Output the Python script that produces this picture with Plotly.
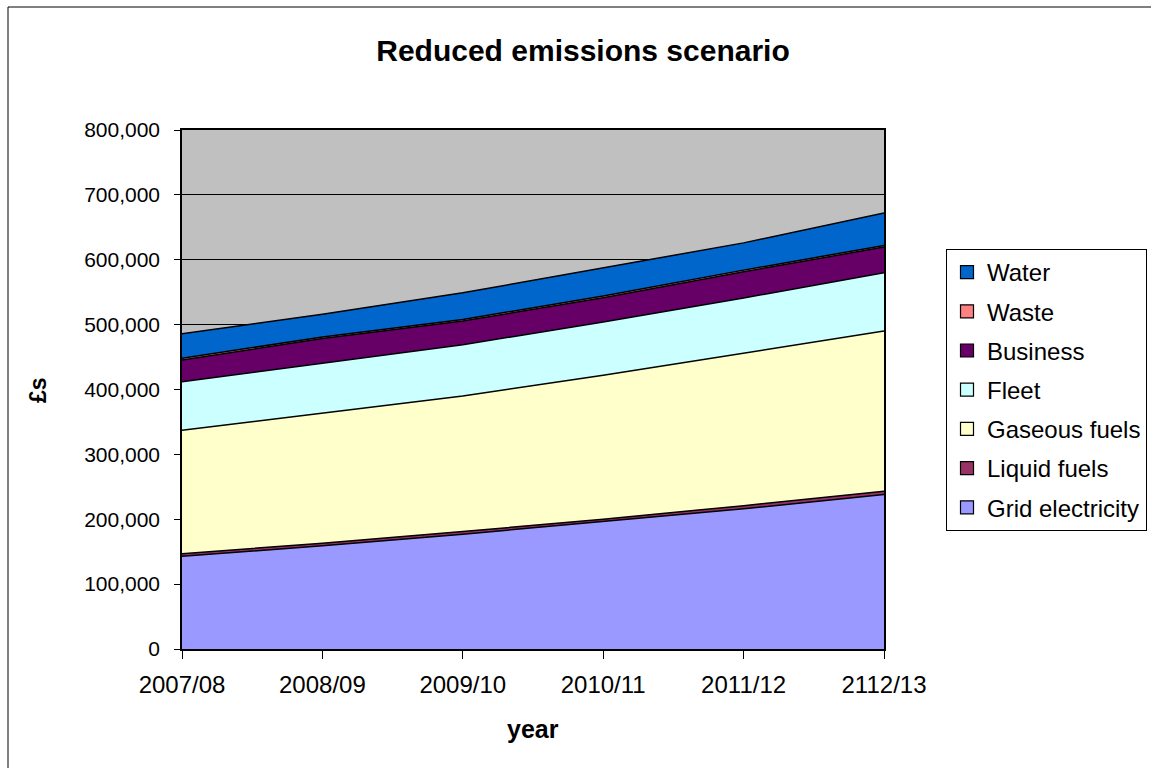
import plotly.graph_objects as go

years = ["2007/08", "2008/09", "2009/10", "2010/11", "2011/12", "2112/13"]

grid_electricity = [143000, 159000, 177000, 196000, 216000, 238000]
liquid_fuels = [4000, 4000, 4000, 4000, 5000, 5000]
gaseous_fuels = [190000, 201000, 209000, 222000, 235000, 247000]
fleet = [75000, 77000, 79000, 82000, 85000, 90000]
business = [33500, 37500, 36500, 37500, 40500, 39500]
waste = [2500, 2500, 2500, 2500, 2500, 2500]
water = [38000, 35000, 41000, 43000, 42000, 50000]

y_ticks = [0, 100000, 200000, 300000, 400000, 500000, 600000, 700000, 800000]

series = [
    ("Grid electricity", grid_electricity, "#9999FF"),
    ("Liquid fuels", liquid_fuels, "#993366"),
    ("Gaseous fuels", gaseous_fuels, "#FFFFCC"),
    ("Fleet", fleet, "#CCFFFF"),
    ("Business", business, "#660066"),
    ("Waste", waste, "#FF8080"),
    ("Water", water, "#0066CC"),
]

FONT = "Liberation Sans, Arial, sans-serif"

fig = go.Figure()
n = len(series)
for i, (name, vals, col) in enumerate(series):
    fig.add_trace(go.Scatter(
        x=years, y=vals, name=name, mode="lines",
        stackgroup="one", fillcolor=col,
        line=dict(color="black", width=1.5),
        showlegend=False,
        hoverinfo="x+y+name",
    ))
# legend entries (square swatches like the original)
for i, (name, vals, col) in enumerate(series):
    fig.add_trace(go.Scatter(
        x=[None], y=[None], name=name, mode="markers",
        marker=dict(symbol="square", size=13, color=col,
                    line=dict(color="black", width=1.2)),
        legendgroup=f"g{i}", legendrank=n - i, showlegend=True,
        hoverinfo="skip",
    ))

W, H = 1151, 768
L, R, T, B = 182, 884, 130, 649
pw, ph = R - L, B - T

def px_x(x):
    return (x - L) / pw

def px_y(y):
    return (B - y) / ph

fig.update_layout(
    width=W, height=H,
    margin=dict(l=L, r=W - R, t=T, b=H - B, pad=0, autoexpand=False),
    paper_bgcolor="white",
    plot_bgcolor="#C0C0C0",
    font=dict(family=FONT, size=21, color="black"),
    title=dict(text="<b>Reduced emissions scenario</b>", x=583 / W, xanchor="center",
               y=1 - 50 / H, yanchor="middle", font=dict(size=30, family=FONT)),
    showlegend=True,
    legend=dict(
        x=px_x(946), y=px_y(249), xanchor="left", yanchor="top",
        traceorder="grouped", tracegroupgap=5,
        bordercolor="black", borderwidth=1, bgcolor="white",
        font=dict(size=24, family=FONT), itemwidth=30,
    ),
    xaxis=dict(
        type="category", range=[0, 5], showgrid=False,
        ticks="outside", ticklen=8, tickcolor="black",
        showline=True, linecolor="black", linewidth=1.5, mirror=True,
        tickfont=dict(size=24), ticklabelstandoff=5,
        zeroline=False,
    ),
    yaxis=dict(
        range=[0, 800000], tickvals=y_ticks, tickformat=",",
        showgrid=True, gridcolor="black", gridwidth=1,
        ticks="outside", ticklen=6, tickcolor="black",
        showline=True, linecolor="black", linewidth=1.5, mirror=True,
        tickfont=dict(size=21), ticklabelstandoff=10, zeroline=False,
    ),
    annotations=[
        dict(text="<b>year</b>", xref="paper", yref="paper", x=0.5, y=px_y(729),
             xanchor="center", yanchor="middle", showarrow=False, font=dict(size=25)),
        dict(text="<b>£s</b>", xref="paper", yref="paper", x=px_x(38), y=px_y(390),
             xanchor="center", yanchor="middle", showarrow=False, textangle=-90,
             font=dict(size=23)),
    ],
    shapes=[
        dict(type="rect", xref="paper", yref="paper",
             x0=px_x(8), x1=px_x(1170), y0=px_y(790), y1=px_y(7),
             line=dict(color="black", width=1), fillcolor="rgba(0,0,0,0)", layer="below"),
    ],
)

fig.write_html("out.html")
